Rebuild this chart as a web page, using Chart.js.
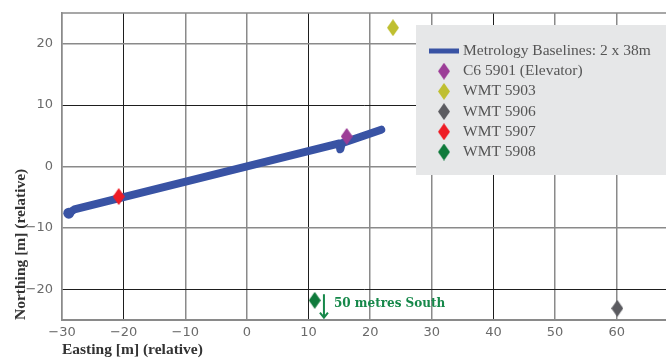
<!DOCTYPE html>
<html>
<head>
<meta charset="utf-8">
<script src="https://cdn.jsdelivr.net/npm/chart.js@4.4.1/dist/chart.umd.min.js"></script>
<style>
  html, body { margin: 0; padding: 0; background: #fff; overflow: hidden; }
  canvas { display: block; }
</style>
</head>
<body>
<canvas id="surveyChart" width="666" height="358"></canvas>
<script>
// baseline trace (two 38 m baselines, drawn as one thick line)
const baselineEasting  = [-28.9, -28.0, 15.0, 15.15, 15.4, 21.8];
const baselineNorthing = [-7.6, -7.0, 3.75, 2.8, 3.8, 6.0];

// survey stations
const stationNames    = ['C6 5901 (Elevator)', 'WMT 5903', 'WMT 5906', 'WMT 5907', 'WMT 5908'];
const stationEasting  = [16.2, 23.7, 60.1, -20.8, 11.0];
const stationNorthing = [4.9, 22.6, -23.1, -4.9, -21.8];

const xTickValues = [-30, -20, -10, 0, 10, 20, 30, 40, 50, 60];
const yTickValues = [-20, -10, 0, 10, 20];

const baselineName = 'Metrology Baselines: 2 x 38m';
const noteText = '50 metres South';

const lineColor = '#3953a4';
const stationColors = ['#9c3d97', '#bfbf30', '#5b5b60', '#ee1c25', '#0f7a3b'];
const noteColor = '#16884a';

function diamond(color) {
    const c = document.createElement('canvas');
    c.width = 12; c.height = 17;
    const g = c.getContext('2d');
    g.fillStyle = color;
    g.beginPath();
    g.moveTo(6, 0); g.lineTo(12, 8.5); g.lineTo(6, 17); g.lineTo(0, 8.5);
    g.closePath();
    g.fill();
    return c;
}

const datasets = [{
    label: baselineName,
    data: baselineEasting.map((x, i) => ({ x: x, y: baselineNorthing[i] })),
    showLine: true,
    borderColor: lineColor,
    backgroundColor: lineColor,
    borderWidth: 8,
    borderJoinStyle: 'round',
    borderCapStyle: 'round',
    pointRadius: c => c.dataIndex === 0 ? 5.5 : 0,
    pointBorderWidth: 0,
    order: 2
}];
stationNames.forEach((name, i) => {
    datasets.push({
        label: name,
        data: [{ x: stationEasting[i], y: stationNorthing[i] }],
        pointStyle: diamond(stationColors[i]),
        backgroundColor: stationColors[i],
        pointRadius: 6,
        order: 1
    });
});

const minus = v => String(v).replace('-', '\u2212');
const tickFont = { family: 'DejaVu Sans', size: 13 };
const titleFont = { family: 'Liberation Serif', size: 15.5, weight: 'bold', lineHeight: 1 };

// legend box, top border and the "50 metres South" note
const extras = {
    id: 'extras',
    afterDatasetsDraw(chart) {
        const ctx = chart.ctx, a = chart.chartArea;
        const xs = chart.scales.x, ys = chart.scales.y;
        ctx.save();
        // top frame line
        ctx.strokeStyle = '#8a8a8a';
        ctx.lineWidth = 1.5;
        ctx.beginPath();
        ctx.moveTo(a.left, a.top); ctx.lineTo(a.right, a.top);
        ctx.stroke();

        // arrow + note
        const ax = xs.getPixelForValue(12.5);
        const y1 = ys.getPixelForValue(-20.8), y2 = ys.getPixelForValue(-24.6);
        ctx.strokeStyle = noteColor;
        ctx.lineWidth = 2;
        ctx.beginPath();
        ctx.moveTo(ax, y1); ctx.lineTo(ax, y2);
        ctx.moveTo(ax - 4, y2 - 5); ctx.lineTo(ax, y2); ctx.lineTo(ax + 4, y2 - 5);
        ctx.stroke();
        ctx.fillStyle = noteColor;
        ctx.font = 'bold 12px "DejaVu Serif"';
        ctx.textBaseline = 'middle';
        ctx.textAlign = 'left';
        ctx.fillText(noteText, ax + 10, ys.getPixelForValue(-22.3));

        // legend
        const bx = a.left + 354, by = a.top + 12;
        ctx.fillStyle = '#e6e7e8';
        ctx.fillRect(bx, by, a.right - bx, 150);
        ctx.font = '15.5px "Liberation Serif"';
        chart.data.datasets.forEach((ds, i) => {
            const ry = by + 26 + i * 20.2;
            if (i === 0) {
                ctx.strokeStyle = lineColor;
                ctx.lineWidth = 5;
                ctx.beginPath();
                ctx.moveTo(bx + 13, ry); ctx.lineTo(bx + 43, ry);
                ctx.stroke();
            } else {
                const img = ds.pointStyle;
                ctx.drawImage(img, bx + 28 - img.width / 2, ry - img.height / 2);
            }
            ctx.fillStyle = '#555';
            ctx.fillText(ds.label, bx + 47, ry);
        });
        ctx.restore();
    }
};

new Chart(document.getElementById('surveyChart').getContext('2d'), {
    type: 'scatter',
    data: { datasets: datasets },
    options: {
        responsive: false,
        animation: false,
        devicePixelRatio: 1,
        layout: { autoPadding: false, padding: { top: 13, left: 0, right: 0, bottom: 0 } },
        plugins: { legend: { display: false }, tooltip: { enabled: false } },
        scales: {
            x: {
                type: 'linear',
                min: -30,
                max: 68,
                afterBuildTicks: s => { s.ticks = xTickValues.map(v => ({ value: v })); },
                afterFit: s => { s.height = 38; s.paddingLeft = 0; s.paddingRight = 0; },
                ticks: { callback: minus, color: '#6a6a6a', font: tickFont, padding: 5, maxRotation: 0, autoSkip: false },
                grid: {
                    drawTicks: false,
                    color: c => [-20, 10, 40].includes(c.tick && c.tick.value) ? '#1e1e1e' : '#8a8a8a',
                    lineWidth: c => [-20, 10, 40].includes(c.tick && c.tick.value) ? 1 : 1.5
                },
                border: { color: '#8a8a8a', width: 2 },
                title: { display: true, text: 'Easting [m] (relative)', align: 'start', color: '#333', font: titleFont, padding: { top: 0, bottom: 0 } }
            },
            y: {
                type: 'linear',
                min: -25,
                max: 25,
                afterBuildTicks: s => { s.ticks = yTickValues.map(v => ({ value: v })); },
                afterFit: s => { s.width = 62; s.paddingTop = 0; s.paddingBottom = 0; },
                ticks: { callback: minus, color: '#6a6a6a', font: tickFont, padding: 9 },
                grid: {
                    drawTicks: false,
                    color: c => [-20, 10].includes(c.tick && c.tick.value) ? '#1e1e1e' : '#8a8a8a',
                    lineWidth: c => [-20, 10].includes(c.tick && c.tick.value) ? 1 : 1.5
                },
                border: { color: '#8a8a8a', width: 1.5 },
                title: { display: true, text: 'Northing [m] (relative)', align: 'start', color: '#333', font: titleFont, padding: { top: 13, bottom: 0 } }
            }
        }
    },
    plugins: [extras]
});
</script>
</body>
</html>
